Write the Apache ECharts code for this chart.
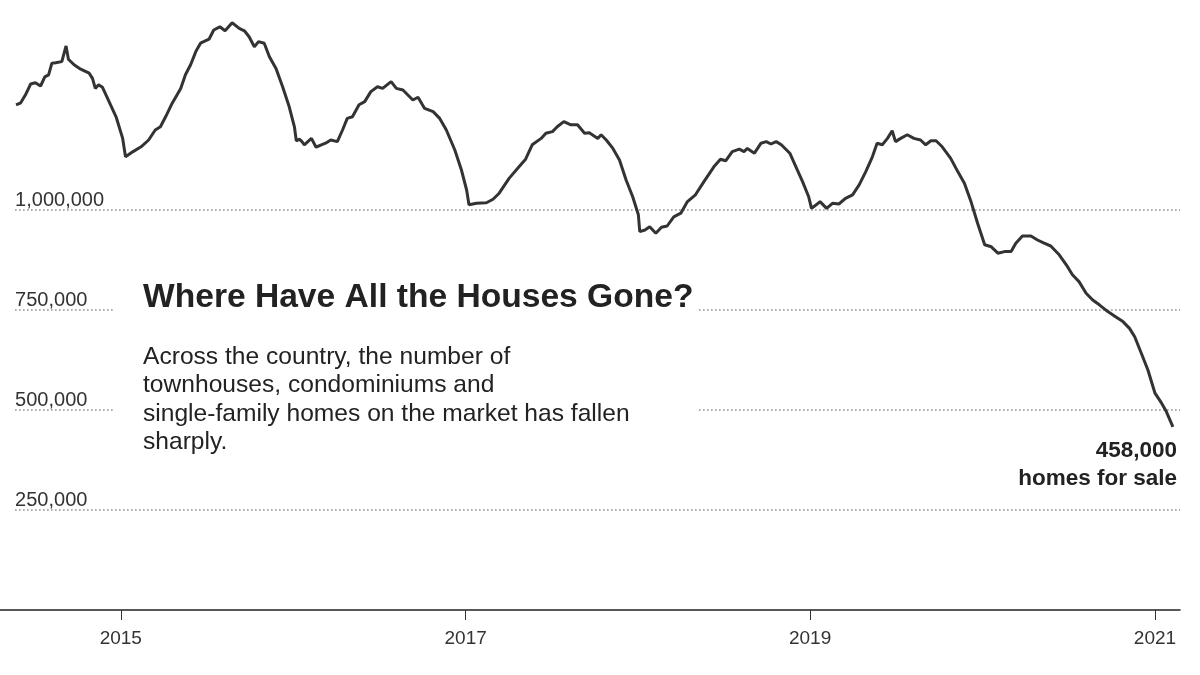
<!DOCTYPE html>
<html>
<head>
<meta charset="utf-8">
<script src="https://cdn.jsdelivr.net/npm/echarts@6/dist/echarts.min.js"></script>
<style>
html,body{margin:0;padding:0;background:#fff;}
#chart{width:1200px;height:675px;}
</style>
</head>
<body>
<div id="chart"></div>
<script>
// ---- data ----
const dates = [
'2014-05-24','2014-06-03','2014-06-13','2014-06-24','2014-07-04','2014-07-15','2014-07-24','2014-08-01','2014-08-08','2014-08-16',
'2014-08-29','2014-09-07','2014-09-12','2014-09-24','2014-10-08','2014-10-26','2014-11-02','2014-11-08','2014-11-15','2014-11-23',
'2014-12-04','2014-12-22','2015-01-05','2015-01-11','2015-01-27','2015-02-13','2015-03-01','2015-03-15','2015-03-26','2015-04-06',
'2015-04-20','2015-05-08','2015-05-18','2015-05-29','2015-06-09','2015-06-19','2015-07-07','2015-07-17','2015-07-30','2015-08-10',
'2015-08-25','2015-09-09','2015-09-20','2015-09-30','2015-10-11','2015-10-20','2015-11-01','2015-11-12','2015-11-26','2015-12-10',
'2015-12-24','2016-01-04','2016-01-08','2016-01-15','2016-01-20','2016-01-25','2016-02-09','2016-02-19','2016-03-01','2016-03-10',
'2016-03-21','2016-04-04','2016-04-15','2016-04-25','2016-05-06','2016-05-20','2016-06-01','2016-06-14','2016-06-28','2016-07-09',
'2016-07-27','2016-08-07','2016-08-21','2016-09-11','2016-09-22','2016-10-06','2016-10-24','2016-11-07','2016-11-21','2016-12-09',
'2016-12-23','2017-01-03','2017-01-08','2017-01-24','2017-02-14','2017-02-28','2017-03-13','2017-04-03','2017-04-24','2017-05-08',
'2017-05-22','2017-06-10','2017-06-20','2017-07-04','2017-07-14','2017-07-28','2017-08-12','2017-08-26','2017-09-10','2017-09-20',
'2017-10-08','2017-10-15','2017-10-26','2017-11-09','2017-11-23','2017-12-07','2017-12-21','2018-01-02','2018-01-05','2018-01-16',
'2018-01-26','2018-02-08','2018-02-20','2018-03-04','2018-03-18','2018-04-02','2018-04-16','2018-05-03','2018-05-21','2018-06-11',
'2018-06-25','2018-07-06','2018-07-20','2018-08-04','2018-08-14','2018-08-21','2018-09-05','2018-09-19','2018-09-30','2018-10-10',
'2018-10-21','2018-11-01','2018-11-19','2018-12-02','2018-12-16','2018-12-29','2019-01-04','2019-01-14','2019-01-22','2019-02-05',
'2019-02-18','2019-03-03','2019-03-17','2019-04-01','2019-04-15','2019-04-29','2019-05-13','2019-05-23','2019-06-03','2019-06-14',
'2019-06-24','2019-07-01','2019-07-12','2019-07-26','2019-08-09','2019-08-23','2019-09-03','2019-09-14','2019-09-25','2019-10-08',
'2019-10-26','2019-11-10','2019-11-24','2019-12-08','2019-12-22','2020-01-06','2020-01-20','2020-02-03','2020-02-17','2020-03-02',
'2020-03-12','2020-03-26','2020-04-13','2020-04-27','2020-05-11','2020-05-25','2020-06-12','2020-06-27','2020-07-10','2020-07-24',
'2020-08-08','2020-08-22','2020-09-05','2020-09-23','2020-10-11','2020-10-25','2020-11-08','2020-11-19','2020-12-03','2020-12-17',
'2021-01-01','2021-01-15','2021-01-25','2021-02-08'
];
const homesForSale = [
1263000,1268000,1288000,1315000,1318000,1310000,1333000,1338000,1367000,1368000,
1371000,1410000,1377000,1363000,1352000,1342000,1329000,1304000,1313000,1307000,
1279000,1233000,1179000,1133000,1146000,1158000,1175000,1200000,1208000,1233000,
1267000,1304000,1338000,1363000,1396000,1417000,1427000,1450000,1458000,1448000,
1468000,1454000,1448000,1433000,1408000,1421000,1417000,1383000,1354000,1308000,
1258000,1208000,1173000,1177000,1171000,1163000,1179000,1157000,1163000,1167000,
1175000,1171000,1200000,1229000,1233000,1263000,1271000,1296000,1308000,1304000,
1321000,1304000,1300000,1275000,1282000,1254000,1246000,1229000,1200000,1150000,
1100000,1050000,1013000,1017000,1018000,1027000,1042000,1079000,1108000,1127000,
1163000,1179000,1192000,1196000,1208000,1221000,1213000,1213000,1192000,1193000,
1179000,1188000,1175000,1154000,1125000,1075000,1033000,988000,946000,950000,
958000,942000,957000,960000,983000,992000,1021000,1038000,1071000,1108000,
1127000,1123000,1146000,1152000,1146000,1154000,1142000,1167000,1171000,1165000,
1171000,1163000,1142000,1108000,1071000,1033000,1004000,1013000,1021000,1004000,
1017000,1015000,1029000,1038000,1063000,1096000,1133000,1167000,1163000,1179000,
1198000,1171000,1179000,1188000,1179000,1175000,1163000,1173000,1173000,1158000,
1129000,1096000,1067000,1021000,967000,913000,908000,892000,896000,896000,
917000,935000,935000,925000,917000,910000,888000,863000,838000,821000,
792000,775000,763000,746000,732000,721000,704000,683000,642000,600000,
542000,517000,496000,458000
];
const gridValues = [250000, 500000, 750000, 1000000];
const gridLabels = ['250,000', '500,000', '750,000', '1,000,000'];
const tickDates = ['2015-01-01', '2017-01-01', '2019-01-01', '2021-01-01'];
const tickLabels = ['2015', '2017', '2019', '2021'];
const titleText = 'Where Have All the Houses Gone?';
const subtitleLines = [
  'Across the country, the number of',
  'townhouses, condominiums and',
  'single-family homes on the market has fallen',
  'sharply.'
];
const endLabelLines = ['458,000', 'homes for sale'];

// ---- chart ----
const FONT = '"Liberation Sans", Arial, Helvetica, sans-serif';
const ts = (d) => Date.UTC(+d.slice(0, 4), +d.slice(5, 7) - 1, +d.slice(8, 10));
const tickTimes = tickDates.map(ts);
const seriesData = dates.map((d, i) => [ts(d), homesForSale[i]]);
const X_MIN = ts('2014-04-20');
const X_MAX = ts('2021-02-23');
const GRID_START = ts('2014-05-22');

const chart = echarts.init(document.getElementById('chart'), null, {renderer: 'canvas'});
chart.setOption({
  animation: false,
  backgroundColor: '#ffffff',
  grid: {left: 0, right: 20, top: 10, bottom: 65},
  xAxis: {
    type: 'value',
    min: X_MIN,
    max: X_MAX,
    axisLine: {show: true, lineStyle: {color: '#222', width: 1.5}},
    axisTick: {show: true, customValues: tickTimes, length: 10, lineStyle: {color: '#333', width: 1}},
    axisLabel: {
      customValues: tickTimes,
      formatter: (v) => {
        const i = tickTimes.indexOf(v);
        return i >= 0 ? tickLabels[i] : '';
      },
      fontFamily: FONT, fontSize: 19, color: '#333', margin: 19
    },
    splitLine: {show: false}
  },
  yAxis: {
    type: 'value', min: 0, max: 1500000, show: false
  },
  series: [{
    type: 'line',
    data: seriesData,
    showSymbol: false,
    symbol: 'none',
    smooth: false,
    lineStyle: {color: '#333333', width: 3},
    z: 5,
    markLine: {
      silent: true,
      symbol: ['none', 'none'],
      z: 1,
      lineStyle: {type: [1.5, 2.5], color: '#8a8a8a', width: 1.5},
      label: {
        show: true,
        position: 'insideStartTop',
        distance: [0, 0],
        fontFamily: FONT, fontSize: 20, color: '#333'
      },
      data: gridValues.map((v, i) => [
        {coord: [GRID_START, v], name: gridLabels[i], label: {formatter: gridLabels[i]}},
        {coord: [X_MAX, v]}
      ])
    }
  }],
  graphic: [
    {type: 'rect', left: 114, top: 272, shape: {width: 583, height: 185}, style: {fill: '#fff'}, z: 50, silent: true},
    {type: 'text', left: 143, top: 281, z: 60,
      style: {text: titleText, font: 'bold 33.6px ' + FONT, fill: '#222'}},
    {type: 'text', left: 143, top: 343, z: 60,
      style: {text: subtitleLines.join('\n'), font: '24.6px ' + FONT, lineHeight: 28.3, fill: '#222'}},
    {type: 'text', right: 23, top: 439, z: 60,
      style: {text: endLabelLines[0], font: 'bold 22.5px ' + FONT, fill: '#222'}},
    {type: 'text', right: 23, top: 467, z: 60,
      style: {text: endLabelLines[1], font: 'bold 22.5px ' + FONT, fill: '#222'}}
  ]
});
</script>
</body>
</html>
